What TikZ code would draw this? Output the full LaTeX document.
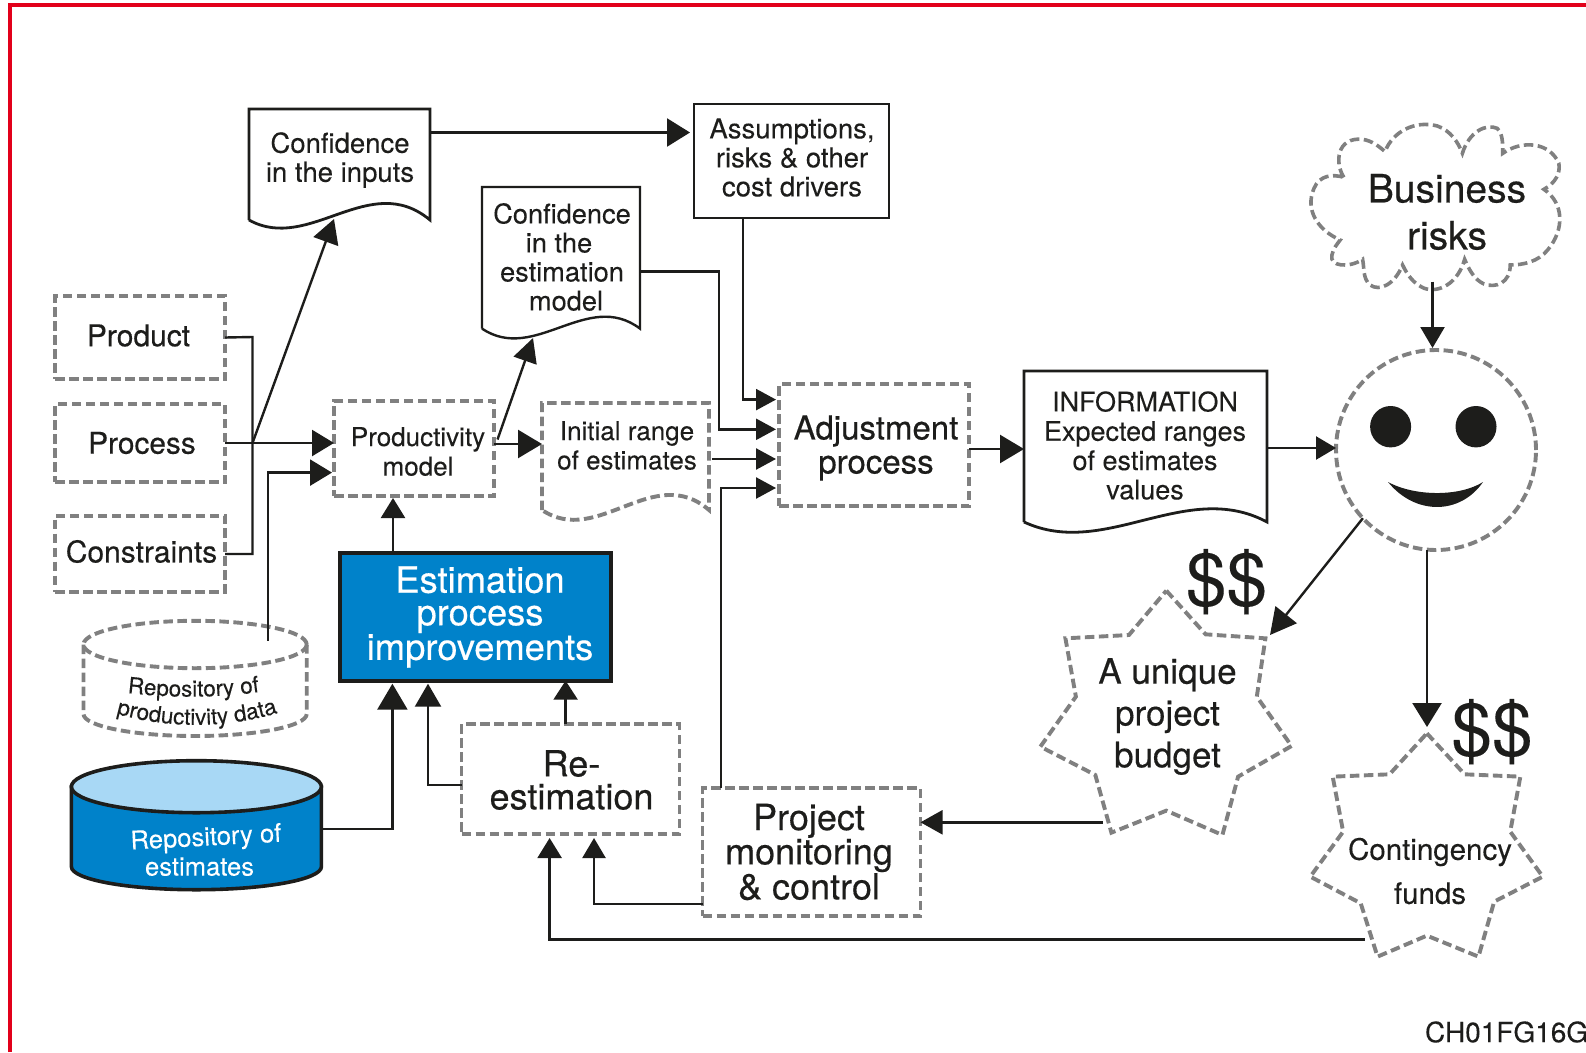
\documentclass[tikz,border=0pt]{standalone}
\usepackage{fontspec}
\setmainfont[FakeBold=0.12]{TeX Gyre Heros}
\newfontfamily\medfont[FakeBold=0.4]{TeX Gyre Heros}
\usetikzlibrary{arrows.meta,decorations.text}
\definecolor{ink}{HTML}{1D1D1B}
\definecolor{dashgray}{HTML}{808080}
\definecolor{blueA}{HTML}{0082CA}
\definecolor{blueB}{HTML}{A8D8F5}
\definecolor{frame}{HTML}{E2001A}
\tikzset{
  x=1pt,y=-1pt,
  every node/.style={text=ink,align=center,inner sep=0pt,outer sep=0pt},
  fs/.style 2 args={font=\fontsize{#1}{#2}\selectfont},
  fm/.style 2 args={font=\medfont\fontsize{#1}{#2}\selectfont},
  dashedline/.style={draw=dashgray,line width=3.9pt,dash pattern=on 9.5pt off 4.5pt,line join=miter},
  dbox/.style 2 args={dashedline,minimum width=#1,minimum height=#2},
  docbody/.style 2 args={minimum width=#1,minimum height=#2},
  solidline/.style={draw=ink,line width=2.8pt,line join=miter},
  thinline/.style={draw=ink,line width=2.4pt,line join=miter},
  conn/.style 2 args={draw=ink,line width=2.4pt,line join=miter,arrows={-{Triangle[length=#1pt,width=#2pt]}}},
  plainconn/.style={draw=ink,line width=2.4pt,line join=miter},
}
\begin{document}
\begin{tikzpicture}
\useasboundingbox (0,0) rectangle (1586,1052);
\fill[white] (0,0) rectangle (1586,1052);
\draw[frame,line width=4pt] (10,1052) -- (10,5) -- (1586,5);

% --- solid documents and boxes
\node[docbody={181pt}{111pt}] (confa) at (339.5,164.5) {};
\node[fs={27.5}{29}] (confatext) at (340,160) {Confidence\\in the inputs};
\draw[solidline] (confa.south west) -- (confa.north west) -- (confa.north east) -- (confa.south east)
  .. controls (369.7,169.6) and (309.3,253.5) .. (confa.south west);

\node[solidline,minimum width=195pt,minimum height=114pt] (assum) at (791.5,161) {};
\node[fs={27.5}{29}] (assumtext) at (792,157.5) {Assumptions,\\risks \& other\\cost drivers};

\node[docbody={158pt}{141.6pt}] (confb) at (561,257.8) {};
\node[fs={27.2}{29}] (confbtext) at (562,257) {Confidence\\\hspace*{-6pt}in the\\estimation\\\hspace*{8pt}model};
\draw[thinline] (confb.south west) -- (confb.north west) -- (confb.north east) -- (confb.south east)
  .. controls (587.3,289) and (534.7,364) .. (confb.south west);

\node[docbody={243pt}{151pt}] (info) at (1145.5,446.5) {};
\node[fs={27}{29.3}] (infotext) at (1145,445.5) {INFORMATION\\Expected ranges\\of estimates\\values};
\draw[solidline] (info.south west) -- (info.north west) -- (info.north east) -- (info.south east)
  .. controls (1186,478.5) and (1105,559.6) .. (info.south west);

% --- dashed boxes
\node[dbox={170pt}{83pt}] (product) at (140,337.5) {};
\node[fm={30}{30}] (producttext) at (138.5,335.5) {Product};
\node[dbox={170pt}{78pt}] (process) at (140,443) {};
\node[fm={29.8}{30}] (processtext) at (142,443) {Process};
\node[dbox={170pt}{76pt}] (constr) at (140,553.7) {};
\node[fm={30}{30}] (constrtext) at (141.5,551.5) {Constraints};
\node[dbox={160pt}{95pt}] (prod) at (414,448.5) {};
\node[fs={26}{29.5}] (prodtext) at (418,451.5) {Productivity\\model};
\node[docbody={167pt}{107pt}] (initial) at (625.5,456.5) {};
\node[fs={26}{29.3}] (initialtext) at (627,445.5) {Initial range\\of estimates};
\draw[dashedline] (initial.south west) -- (initial.north west) -- (initial.north east) -- (initial.south east)
  .. controls (653.3,462) and (597.7,547.5) .. (initial.south west);
\node[dbox={190pt}{122pt}] (adj) at (874,445) {};
\node[fm={33}{34}] (adjtext) at (876,448) {Adjustment\\process};
\node[dbox={218pt}{110pt}] (reest) at (570.5,779) {};
\node[fm={36}{33}] (reesttext) at (571.5,780) {Re-\\estimation};
\node[dbox={218pt}{128pt}] (proj) at (811.5,852) {};
\node[fm={36}{33}] (projtext) at (809,852) {Project\\monitoring\\\& control};

% --- estimation process improvements
\node[draw=ink,fill=blueA,line width=3.6pt,minimum width=271pt,minimum height=128pt] (epi) at (475.5,616.7) {};
\node[text=white,fm={36.3}{32.5}] (epitext) at (480,617) {Estimation\\process\\improvements};

% --- cylinders
\draw[dashedline] (83.5,644.5) -- (83.5,714) arc[start angle=180,end angle=360,x radius=111.6pt,y radius=22pt] -- (306.7,644.5);
\draw[dashedline] (195.1,644.5) ellipse[x radius=111.6pt,y radius=23.7pt];
\path[decorate,decoration={text along path,text align=center,text={|\fontsize{22.5}{22}\selectfont\color{ink}|Repository of}}]
  (128,693) .. controls (170,698) and (215,698) .. (259,692);
\path[decorate,decoration={text along path,text align=center,text={|\fontsize{22.5}{22}\selectfont\color{ink}|productivity data}}]
  (113,713) .. controls (170,729) and (225,729) .. (281,712);
\coordinate (repoout) at (268,640.7);

\node[minimum width=250pt,minimum height=130pt] (repob) at (196.4,825) {};
\filldraw[draw=ink,fill=blueA,line width=3.6pt] (71.4,786.7) -- (71.4,866.7) arc[start angle=180,end angle=360,x radius=125pt,y radius=23pt] -- (321.4,786.7) -- cycle;
\filldraw[draw=ink,fill=blueB,line width=3.6pt] (196.4,786.7) ellipse[x radius=125pt,y radius=26pt];
\node[text=white,fs={25.6}{26},rotate=3] (repoa) at (206,839) {Repository of};
\node[text=white,fs={25.6}{26}] (repoc) at (199.5,866.7) {estimates};

% --- smiley
\node[circle,dashedline,minimum size=200pt] (smile) at (1436,450) {};
\fill[ink] (1390.6,426.7) ellipse[x radius=20.5pt,y radius=20.7pt];
\fill[ink] (1476,426.7) ellipse[x radius=20.5pt,y radius=20.7pt];
\fill[ink] (1388,482) .. controls (1415,496.7) and (1460,496.7) .. (1483,482)
  .. controls (1460,515.3) and (1415,515.3) .. (1388,482) -- cycle;

% --- cloud (zoomed coordinates)
\begin{scope}[shift={(1000,100)},x=0.3738pt,y=-0.3333pt]
\draw[dashedline,line width=3.6pt] (920,232)
  .. controls (895,190) and (900,110) .. (970,118)
  .. controls (995,122) and (1015,140) .. (1030,155)
  .. controls (1050,95) and (1110,60) .. (1170,78)
  .. controls (1205,92) and (1225,125) .. (1237,160)
  .. controls (1255,95) and (1300,70) .. (1330,85)
  .. controls (1345,100) and (1345,130) .. (1345,160)
  .. controls (1395,120) and (1470,125) .. (1495,190)
  .. controls (1500,220) and (1485,250) .. (1455,268)
  .. controls (1510,310) and (1510,390) .. (1465,450)
  .. controls (1440,485) and (1400,495) .. (1365,495)
  .. controls (1365,550) and (1325,565) .. (1295,552)
  .. controls (1270,540) and (1255,510) .. (1243,478)
  .. controls (1225,550) and (1175,580) .. (1135,565)
  .. controls (1105,550) and (1090,525) .. (1077,495)
  .. controls (1055,555) and (1015,575) .. (990,555)
  .. controls (970,535) and (975,505) .. (970,478)
  .. controls (935,505) and (880,500) .. (888,465)
  .. controls (892,445) and (900,435) .. (910,420)
  .. controls (850,390) and (815,330) .. (840,265)
  .. controls (855,225) and (890,222) .. (920,232);
\end{scope}
\node[fm={39}{47}] (business) at (1447,212) {Business\\risks};
\coordinate (cloudout) at (1432.5,281.7);

% --- stars
\begin{scope}[shift={(1000,540)},x=0.3738pt,y=-0.3333pt]
\draw[dashedline] (445,152) -- (550,283) -- (710,295) -- (687,470) -- (780,618) -- (637,710) -- (595,885) -- (445,812) -- (298,878) -- (255,705) -- (108,620) -- (203,470) -- (175,295) -- (345,285) -- cycle;
\draw[dashedline] (1142,580) -- (1243,703) -- (1392,710) -- (1365,875) -- (1452,1010) -- (1322,1085) -- (1280,1250) -- (1142,1187) -- (1010,1250) -- (965,1090) -- (830,1010) -- (918,875) -- (890,710) -- (1042,703) -- cycle;
\end{scope}
\node[fm={35}{41.8}] (budget) at (1167.5,716.5) {A unique\\project\\budget};
\node[fs={29.5}{44}] (cont) at (1430,871) {Contingency\\funds};
\coordinate (budgetin) at (1270,635);
\coordinate (budgetout) at (1102.8,822.3);
\coordinate (contin) at (1427,727);
\coordinate (contout) at (1364.5,939.3);
\node[fs={73}{72}] (doll) at (1226.5,581.7) {\$\$};
\node[fs={73}{72}] (dollb) at (1492,731.7) {\$\$};
\node[fs={28}{30},anchor=west] (code) at (1425,1032) {CH01FG16G};

% --- bend coordinates
\coordinate (bustop) at (252.5,337);
\coordinate (busmid) at (252.5,443);
\coordinate (busbot) at (252.5,554);
\coordinate (conftip) at (334,219);
\coordinate (repobend) at (268,472.6);
\coordinate (prodout) at (497.5,439.5);
\coordinate (confbtip) at (533,338);
\coordinate (aA) at (743,399.6);
\coordinate (aB) at (719,429.3);
\coordinate (aC) at (712,459);
\coordinate (aD) at (721,488);
\coordinate (topa) at (430,132.5);
\coordinate (confbout) at (719,271.5);
\coordinate (bA) at (392.4,829);
\coordinate (bB) at (428,785);
\coordinate (bC) at (594,904);
\coordinate (bD) at (549.6,939.3);

% --- connectors
\draw[plainconn] (product.east) -- (bustop) -- (busbot) -- (constr.east |- busbot);
\draw[conn={22}{26}] (process.east) -- (prod.west |- process.east);
\draw[conn={24}{26}] (busmid) -- (conftip);
\draw[conn={22}{26}] (repoout) -- (repobend) -- ([xshift=-2pt]prod.west |- repobend);
\draw[conn={23}{28}] (topa) -- ([xshift=-4pt]assum.west |- topa);
\draw[conn={24}{24}] (prodout) -- (confbtip);
\draw[conn={24}{28}] (prod.east |- 0,444) -- (initial.west |- 0,444);
\draw[conn={20}{24}] (epi.north -| 393,0) -- ([yshift=-2pt]prod.south -| 393,0);
\draw[conn={20}{21}] (assum.south -| aA) -- (aA) -- ([xshift=-3pt]adj.west |- aA);
\draw[conn={20}{21}] (confb.east |- confbout) -- (confbout) -- (aB) -- ([xshift=-3pt]adj.west |- aB);
\draw[conn={20}{21}] (aC) -- ([xshift=-3pt]adj.west |- aC);
\draw[conn={20}{21}] (proj.north -| aD) -- (aD) -- ([xshift=-3pt]adj.west |- aD);
\draw[conn={24}{28}] (adj.east |- 0,449) -- (info.west |- 0,449);
\draw[conn={20}{23}] (info.east |- 0,448) -- (smile.west |- 0,448);
\draw[conn={21}{24}] (cloudout) -- ([yshift=2pt]smile.north -| cloudout);
\draw[conn={26}{27}] (smile.223) -- (budgetin);
\draw[conn={24}{29}] (smile.south -| contin) -- (contin);
\draw[conn={22}{24}] (budgetout) -- (proj.east |- budgetout);
\draw[conn={26}{30}] (repob.east |- bA) -- (bA) -- ([yshift=-3pt]epi.south -| bA);
\draw[conn={23}{26}] (reest.west |- bB) -- (bB) -- ([yshift=-3pt]epi.south -| bB);
\draw[conn={19}{24}] (reest.north -| 565.6,0) -- (epi.south -| 565.6,0);
\draw[conn={20}{23}] (proj.west |- bC) -- (bC) -- ([yshift=-4pt]reest.south -| bC);
\draw[conn={20}{24}] (contout) -- (bD) -- ([yshift=-4pt]reest.south -| bD);
\end{tikzpicture}
\end{document}
